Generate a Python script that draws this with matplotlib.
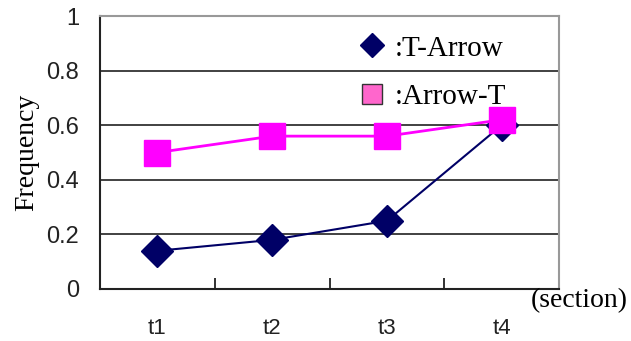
import matplotlib
matplotlib.use('Agg')
import matplotlib.pyplot as plt
from matplotlib.lines import Line2D

# values
sections = ['t1', 't2', 't3', 't4']
t_arrow = [0.14, 0.18, 0.25, 0.60]
arrow_t = [0.50, 0.56, 0.56, 0.62]
y_ticks = [0, 0.2, 0.4, 0.6, 0.8, 1]
y_labels = ['0', '0.2', '0.4', '0.6', '0.8', '1']

serif = 'Liberation Serif'
sans = 'Liberation Sans'

fig = plt.figure(figsize=(6.31, 3.41), dpi=100)
ax = fig.add_axes([0.1585, 0.1525, 0.7275, 0.8005])

x = list(range(len(sections)))

# gridlines
for v in y_ticks[1:-1]:
    ax.axhline(v, color='#333333', lw=1.3, zorder=1)

ax.plot(x, t_arrow, color='#000066', lw=1.5, marker='D', ms=16,
        markerfacecolor='#000066', markeredgecolor='#000066', zorder=3)
ax.plot(x, arrow_t, color='#ff00ff', lw=2, marker='s', ms=19,
        markerfacecolor='#ff00ff', markeredgecolor='#ff00ff', zorder=4)

ax.set_xlim(-0.5, len(sections) - 0.5)
ax.set_ylim(0, 1)

# spines: dark left/bottom, gray top/right
ax.spines['left'].set_color('#222222')
ax.spines['bottom'].set_color('#222222')
ax.spines['top'].set_color('#999999')
ax.spines['right'].set_color('#999999')
for s in ax.spines.values():
    s.set_linewidth(1.5)

ax.set_yticks(y_ticks)
ax.set_yticklabels(y_labels, fontsize=17, family=sans, color='#222222')
ax.tick_params(axis='y', length=0, pad=15)

# category boundaries as inward ticks, labels at centres
ax.set_xticks([i + 0.5 for i in x])
ax.set_xticklabels([])
ax.tick_params(axis='x', which='major', direction='in', length=8, width=1.3, color='#222222')
ax.set_xticks(x, minor=True)
ax.set_xticklabels(sections, minor=True, fontsize=16, family=sans, color='#222222')
ax.tick_params(axis='x', which='minor', length=0, pad=21)

ax.set_ylabel('Frequency', fontsize=20, family=serif, labelpad=5)
fig.text(0.995, 1 - 301 / 341, '(section)', ha='right', va='center',
         fontsize=20, family=serif)

handles = [
    Line2D([], [], ls='none', marker='D', ms=12, markerfacecolor='#000066',
           markeredgecolor='#000066'),
    Line2D([], [], ls='none', marker='s', ms=15, markerfacecolor='#ff66cc',
           markeredgecolor='#333333', markeredgewidth=1),
]
ax.legend(handles, [':T-Arrow', ':Arrow-T'], loc='upper left',
          bbox_to_anchor=(0.56, 0.93), frameon=False,
          prop={'family': serif, 'size': 21}, handlelength=1.0,
          handletextpad=0.3, labelspacing=0.75, borderaxespad=0, borderpad=0)

fig.savefig('out.png', dpi=100)
